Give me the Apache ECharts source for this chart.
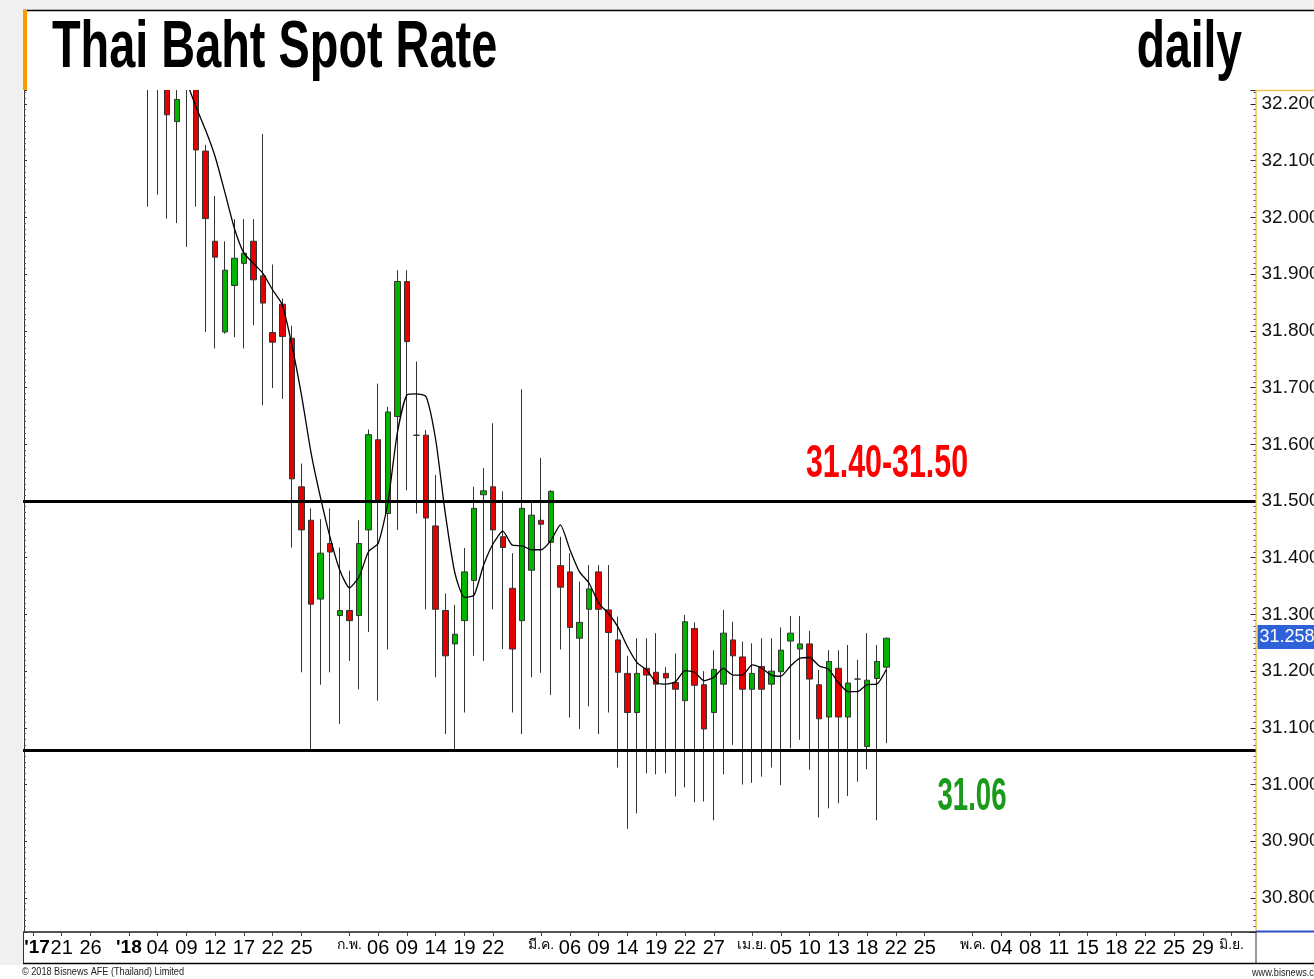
<!DOCTYPE html>
<html>
<head>
<meta charset="utf-8">
<script src="https://cdn.jsdelivr.net/npm/echarts@6/dist/echarts.min.js"></script>
<style>
html, body { margin: 0; padding: 0; background: #fff; }
#main { width: 1314px; height: 979px; }
</style>
</head>
<body>
<div id="main"></div>
<script>
// trading-day slots on the category axis, first candle sits at slot 13
var slotCount = 129;
var firstSlot = 13;
var tickSlots = [1, 4, 7, 11, 14, 17, 20, 23, 26, 29, 34, 37, 40, 43, 46, 49, 54, 57, 60, 63, 66, 69, 72,
    76, 79, 82, 85, 88, 91, 94, 99, 102, 105, 108, 111, 114, 117, 120, 123, 126];
var tickTexts = ["'17", "21", "26", "'18", "04", "09", "12", "17", "22", "25", "ก.พ.", "06", "09", "14", "19", "22",
    "มี.ค.", "06", "09", "14", "19", "22", "27", "เม.ย.", "05", "10", "13", "18", "22", "25",
    "พ.ค.", "04", "08", "11", "15", "18", "22", "25", "29", "มิ.ย."];

var openVals = [32.30, 32.26, 32.28, 32.169, 32.30, 32.26, 32.117, 31.958, 31.798, 31.880,
    31.919, 31.958, 31.897, 31.797, 31.847, 31.787, 31.525, 31.466, 31.327, 31.425,
    31.298, 31.307, 31.298, 31.449, 31.608, 31.478, 31.649, 31.887, 31.616, 31.616,
    31.456, 31.307, 31.248, 31.289, 31.360, 31.511, 31.525, 31.437, 31.346, 31.289,
    31.378, 31.466, 31.427, 31.386, 31.375, 31.258, 31.309, 31.375, 31.308, 31.255,
    31.196, 31.127, 31.205, 31.198, 31.196, 31.180, 31.148, 31.275, 31.176, 31.127,
    31.177, 31.255, 31.225, 31.168, 31.208, 31.177, 31.199, 31.253, 31.239, 31.248,
    31.176, 31.119, 31.205, 31.119, 31.186, 31.067, 31.187, 31.207];
var closeVals = [32.26, 32.29, 32.181, 32.208, 32.25, 32.119, 31.998, 31.930, 31.907, 31.928,
    31.937, 31.890, 31.849, 31.780, 31.790, 31.539, 31.449, 31.318, 31.408, 31.410,
    31.307, 31.289, 31.425, 31.617, 31.502, 31.657, 31.887, 31.781, 31.616, 31.470,
    31.309, 31.227, 31.265, 31.375, 31.487, 31.518, 31.449, 31.418, 31.239, 31.487,
    31.475, 31.459, 31.517, 31.348, 31.277, 31.286, 31.345, 31.309, 31.268, 31.198,
    31.127, 31.196, 31.193, 31.177, 31.188, 31.168, 31.287, 31.175, 31.098, 31.203,
    31.267, 31.227, 31.168, 31.196, 31.168, 31.200, 31.237, 31.267, 31.248, 31.186,
    31.116, 31.217, 31.119, 31.179, 31.186, 31.184, 31.217, 31.258];
var lowVals = [32.019, 32.04, 31.998, 31.99, 31.948, 32.019, 31.798, 31.769, 31.795, 31.789,
    31.769, 31.810, 31.669, 31.699, 31.680, 31.418, 31.198, 31.058, 31.176, 31.198,
    31.107, 31.218, 31.168, 31.269, 31.148, 31.238, 31.449, 31.519, 31.478, 31.309,
    31.189, 31.089, 31.058, 31.127, 31.227, 31.218, 31.309, 31.239, 31.127, 31.089,
    31.189, 31.197, 31.158, 31.238, 31.118, 31.098, 31.138, 31.089, 31.127, 31.030,
    30.922, 30.949, 31.020, 31.018, 31.020, 30.979, 30.995, 30.969, 30.970, 30.937,
    31.018, 31.070, 31.000, 31.003, 31.014, 31.030, 30.999, 31.064, 31.079, 31.026,
    30.942, 30.958, 30.967, 30.980, 31.005, 31.027, 30.937, 31.073];
var highVals = [32.36, 32.33, 32.31, 32.25, 32.34, 32.27, 32.128, 32.038, 31.958, 31.997,
    31.997, 31.997, 32.147, 31.917, 31.857, 31.809, 31.566, 31.487, 31.468, 31.487,
    31.418, 31.377, 31.466, 31.626, 31.707, 31.666, 31.907, 31.907, 31.746, 31.625,
    31.546, 31.337, 31.317, 31.417, 31.525, 31.558, 31.637, 31.517, 31.408, 31.697,
    31.497, 31.576, 31.519, 31.437, 31.408, 31.358, 31.387, 31.387, 31.387, 31.296,
    31.227, 31.258, 31.258, 31.267, 31.207, 31.231, 31.299, 31.286, 31.200, 31.237,
    31.308, 31.287, 31.252, 31.249, 31.258, 31.258, 31.277, 31.297, 31.297, 31.271,
    31.202, 31.237, 31.237, 31.246, 31.220, 31.267, 31.246, 31.259];
var ma5Vals = [32.40, 32.36, 32.32, 32.28, 32.24, 32.195, 32.154, 32.107, 32.045, 31.981,
    31.937, 31.919, 31.901, 31.872, 31.846, 31.775, 31.687, 31.585, 31.505, 31.435,
    31.378, 31.347, 31.366, 31.411, 31.425, 31.496, 31.620, 31.687, 31.689, 31.684,
    31.608, 31.478, 31.373, 31.330, 31.334, 31.387, 31.425, 31.447, 31.422, 31.421,
    31.414, 31.414, 31.430, 31.458, 31.414, 31.375, 31.355, 31.320, 31.302, 31.278,
    31.243, 31.215, 31.202, 31.180, 31.177, 31.181, 31.201, 31.198, 31.183, 31.189,
    31.205, 31.193, 31.193, 31.211, 31.205, 31.193, 31.191, 31.209, 31.223, 31.224,
    31.209, 31.203, 31.180, 31.164, 31.164, 31.176, 31.177, 31.203];

var resistanceLevel = 31.50;
var supportLevel = 31.06;
var lastPrice = 31.258;
var yMin = 30.740, yMax = 32.2247;

var sans = '"Liberation Sans", Arial, sans-serif';
var upColor = '#00b400', downColor = '#e60000';

var cats = [];
for (var k = 0; k < slotCount; k++) cats.push('s' + k);

var candleData = [], maData = [];
for (var i = 0; i < openVals.length; i++) {
    candleData.push([firstSlot + i, openVals[i], closeVals[i], lowVals[i], highVals[i]]);
    maData.push([firstSlot + i, ma5Vals[i]]);
}

function isTick(idx) {
    return tickSlots.indexOf(idx) >= 0;
}

function tickLabel(value, idx) {
    var p = tickSlots.indexOf(idx);
    if (p < 0) return '';
    var t = tickTexts[p];
    if (t.charAt(0) === "'") return (p === 0 ? '{y0|' : '{y|') + t + '}';
    if (t.indexOf('.') >= 0) return '{m|' + t + '}';
    return t;
}

var myChart = echarts.init(document.getElementById('main'));

var option = {
    animation: false,
    backgroundColor: '#fff',
    grid: {left: 18.6, right: 58.5, top: 90, bottom: 47, outerBoundsMode: 'none', containLabel: false},
    xAxis: {
        type: 'category',
        data: cats,
        boundaryGap: true,
        axisLine: {lineStyle: {color: '#555', width: 2}},
        axisTick: {show: true, interval: isTick, alignWithLabel: true, length: 4, lineStyle: {color: '#444'}},
        axisLabel: {
            interval: isTick,
            formatter: tickLabel,
            hideOverlap: false,
            color: '#000',
            fontSize: 20,
            fontFamily: sans,
            margin: 6,
            rich: {
                y0: {fontSize: 19, fontWeight: 'bold', fontFamily: sans, color: '#000', padding: [0, 0, 0, 8]},
                y: {fontSize: 19, fontWeight: 'bold', fontFamily: sans, color: '#000'},
                m: {fontSize: 14, fontFamily: sans, color: '#000'}
            }
        },
        splitLine: {show: false}
    },
    yAxis: [{
        type: 'value',
        position: 'right',
        min: yMin,
        max: yMax,
        splitNumber: 15,
        axisLine: {show: true, lineStyle: {color: '#f2c24b', width: 1.5}},
        axisTick: {show: true, inside: true, length: 5, lineStyle: {color: '#222'}},
        minorTick: {show: true, splitNumber: 10, length: 2, lineStyle: {color: '#444'}},
        axisLabel: {
            showMinLabel: false,
            showMaxLabel: false,
            formatter: function (v) { return v.toFixed(3); },
            color: '#111',
            fontSize: 19,
            fontFamily: sans,
            margin: 6
        },
        splitLine: {show: false}
    }, {
        type: 'value',
        position: 'left',
        offset: -5.4,
        min: yMin,
        max: yMax,
        splitNumber: 15,
        axisLine: {show: true, lineStyle: {color: '#333', width: 1}},
        axisTick: {show: true, inside: true, length: 3, lineStyle: {color: '#333'}},
        minorTick: {show: true, splitNumber: 10, length: 2, lineStyle: {color: '#555'}},
        axisLabel: {show: false},
        splitLine: {show: false}
    }],
    series: [{
        name: 'USD/THB',
        type: 'candlestick',
        data: candleData,
        encode: {x: 0, y: [1, 2, 3, 4]},
        clip: true,
        barWidth: 6,
        itemStyle: {
            color: upColor,
            color0: downColor,
            borderColor: '#333',
            borderColor0: '#333',
            borderWidth: 1
        },
        markLine: {
            silent: true,
            symbol: ['none', 'none'],
            lineStyle: {color: '#000', width: 3, type: 'solid'},
            label: {show: false},
            data: [
                {yAxis: resistanceLevel},
                {yAxis: supportLevel},
                {
                    yAxis: lastPrice,
                    lineStyle: {color: 'rgba(0,0,0,0)', width: 1},
                    label: {
                        show: true,
                        position: 'end',
                        distance: 2,
                        formatter: lastPrice.toFixed(3),
                        color: '#fff',
                        backgroundColor: '#2f62d8',
                        fontSize: 18,
                        fontFamily: sans,
                        padding: [4, 2, 2, 2]
                    }
                }
            ]
        }
    }, {
        name: 'MA5',
        type: 'line',
        data: maData,
        symbol: 'none',
        smooth: 0.2,
        clip: true,
        z: 3,
        lineStyle: {color: '#000', width: 1.3}
    }],
    graphic: [
        {type: 'rect', z: 100, shape: {x: 27, y: 10, width: 1287, height: 80}, style: {fill: '#fff'}},
        {type: 'rect', z: 100, shape: {x: 0, y: 0, width: 23, height: 965}, style: {fill: '#f0f0f0'}},
        {type: 'rect', z: 100, shape: {x: 0, y: 0, width: 1314, height: 10}, style: {fill: '#f0f0f0'}},
        {type: 'line', z: 100, shape: {x1: 23, y1: 10.5, x2: 1314, y2: 10.5}, style: {stroke: '#000', lineWidth: 1.5}},
        {type: 'rect', z: 100, shape: {x: 23, y: 10, width: 4, height: 80}, style: {fill: '#ff9a00'}},
        {type: 'line', z: 100, shape: {x1: 1256, y1: 90.5, x2: 1314, y2: 90.5}, style: {stroke: '#f2c24b', lineWidth: 1.5}},
        {type: 'line', z: 100, shape: {x1: 1256, y1: 931.5, x2: 1314, y2: 931.5}, style: {stroke: '#2c4fc4', lineWidth: 2}},
        {type: 'line', z: 100, shape: {x1: 1256, y1: 932, x2: 1256, y2: 963}, style: {stroke: '#333', lineWidth: 1}},
        {type: 'line', z: 100, shape: {x1: 23, y1: 963.5, x2: 1314, y2: 963.5}, style: {stroke: '#000', lineWidth: 1.5}},
        {type: 'line', z: 100, shape: {x1: 23.5, y1: 932, x2: 23.5, y2: 963}, style: {stroke: '#333', lineWidth: 1}},
        {
            type: 'text', z: 101, x: 52, y: 49, scaleX: 0.71,
            style: {text: 'Thai Baht Spot Rate', fill: '#000', fontSize: 66, fontWeight: 'bold',
                fontFamily: sans, align: 'left', verticalAlign: 'middle'}
        },
        {
            type: 'text', z: 101, x: 1242, y: 49, scaleX: 0.70,
            style: {text: 'daily', fill: '#000', fontSize: 66, fontWeight: 'bold',
                fontFamily: sans, align: 'right', verticalAlign: 'middle'}
        },
        {
            type: 'text', z: 101, x: 887, y: 464, scaleX: 0.66,
            style: {text: '31.40-31.50', fill: '#ff0000', fontSize: 46, fontWeight: 'bold',
                fontFamily: sans, align: 'center', verticalAlign: 'middle'}
        },
        {
            type: 'text', z: 101, x: 972, y: 797, scaleX: 0.60,
            style: {text: '31.06', fill: '#1a9a1a', fontSize: 46, fontWeight: 'bold',
                fontFamily: sans, align: 'center', verticalAlign: 'middle'}
        },
        {
            type: 'text', z: 101, x: 22, y: 972, scaleX: 0.83,
            style: {text: '© 2018 Bisnews AFE (Thailand) Limited', fill: '#222', fontSize: 11,
                fontFamily: sans, align: 'left', verticalAlign: 'middle'}
        },
        {
            type: 'text', z: 101, x: 1252, y: 973, scaleX: 0.83,
            style: {text: 'www.bisnews.com', fill: '#222', fontSize: 11,
                fontFamily: sans, align: 'left', verticalAlign: 'middle'}
        }
    ]
};
myChart.setOption(option);
</script>
</body>
</html>
